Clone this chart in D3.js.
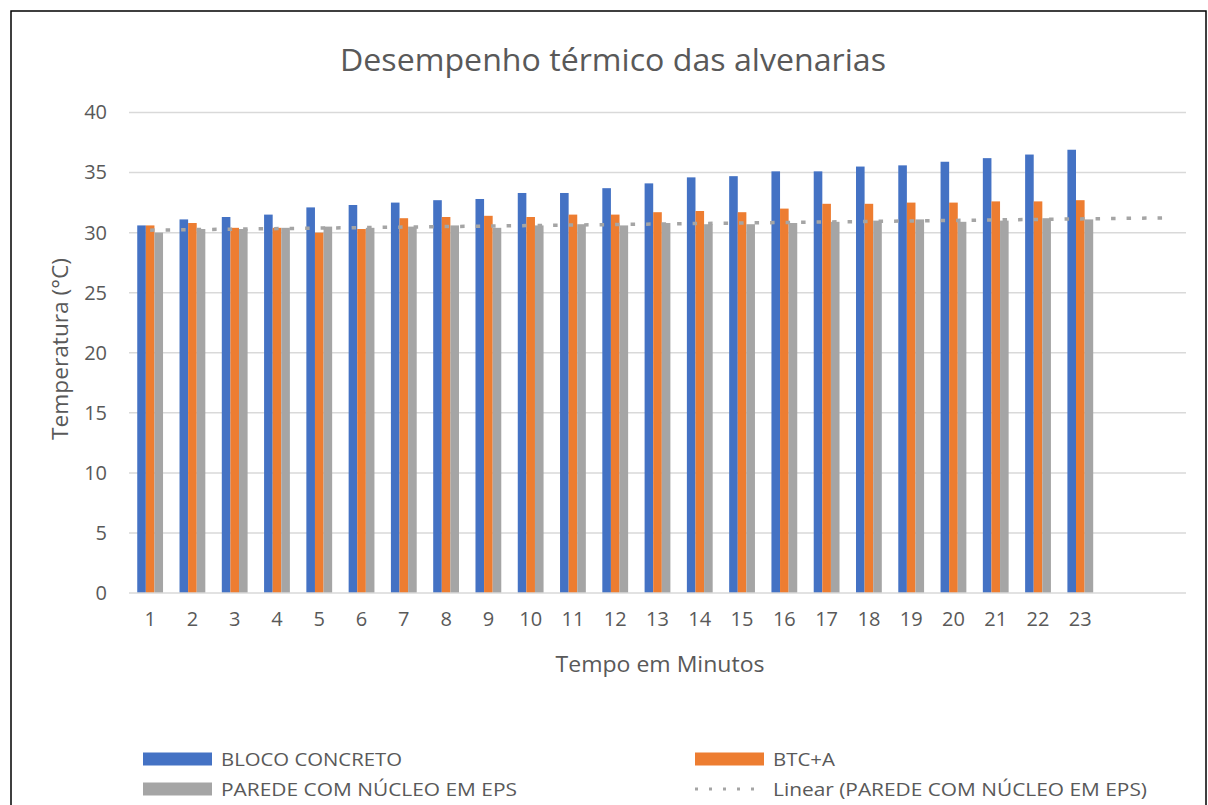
<!DOCTYPE html>
<html>
<head>
<meta charset="utf-8">
<script src="https://cdn.jsdelivr.net/npm/d3@7"></script>
<style>
  html, body { margin: 0; padding: 0; background: #fff; }
  svg { display: block; }
  text { font-family: "Open Sans", "Noto Sans", sans-serif; fill: #595959; }
</style>
</head>
<body>
<svg id="chart" width="1208" height="805"></svg>
<script>
// ---- Data ----
const categories = ["1","2","3","4","5","6","7","8","9","10","11","12","13","14","15","16","17","18","19","20","21","22","23"];
const forecastSlots = ["", ""]; // empty categories covered by the trendline forecast
const seriesNames = ["BLOCO CONCRETO", "BTC+A", "PAREDE COM NÚCLEO EM EPS"];
const blocoConcreto = [30.6, 31.1, 31.3, 31.5, 32.1, 32.3, 32.5, 32.7, 32.8, 33.3, 33.3, 33.7, 34.1, 34.6, 34.7, 35.1, 35.1, 35.5, 35.6, 35.9, 36.2, 36.5, 36.9];
const btcA = [30.6, 30.8, 30.4, 30.4, 30.0, 30.3, 31.2, 31.3, 31.4, 31.3, 31.5, 31.5, 31.7, 31.8, 31.7, 32.0, 32.4, 32.4, 32.5, 32.5, 32.6, 32.6, 32.7];
const paredeEPS = [30.0, 30.3, 30.3, 30.4, 30.5, 30.4, 30.5, 30.6, 30.4, 30.6, 30.7, 30.6, 30.8, 30.7, 30.7, 30.8, 30.9, 31.0, 31.1, 30.9, 31.0, 31.2, 31.1];
const yTicks = [0, 5, 10, 15, 20, 25, 30, 35, 40];
const colors = ["#4472C4", "#ED7D31", "#A5A5A5"];
const titleText = "Desempenho térmico das alvenarias";
const xTitle = "Tempo em Minutos";
const yTitle = "Temperatura (°C)";
const trendLabel = "Linear (PAREDE COM NÚCLEO EM EPS)";

// ---- Layout ----
const svg = d3.select("#chart");
const plot = { left: 129, right: 1186, top: 112.5, bottom: 593 };

svg.append("rect").attr("x", 11).attr("y", 11).attr("width", 1195).attr("height", 820)
  .attr("fill", "#fff").attr("stroke", "#000").attr("stroke-width", 1.5);

const allCats = categories.map((c, i) => i).concat(forecastSlots.map((c, j) => categories.length + j));
const x = d3.scaleBand().domain(allCats).range([plot.left, plot.right]).paddingInner(0).paddingOuter(0);
const y = d3.scaleLinear().domain([0, 40]).range([plot.bottom, plot.top]);

// gridlines
svg.append("g").selectAll("line").data(yTicks.filter(t => t > 0)).join("line")
  .attr("x1", plot.left).attr("x2", plot.right)
  .attr("y1", d => y(d)).attr("y2", d => y(d))
  .attr("stroke", "#D9D9D9").attr("stroke-width", 1.5);

// y axis labels
const yAxis = d3.axisLeft(y).tickValues(yTicks).tickSize(0).tickPadding(0).tickFormat(d3.format("d"));
const yg = svg.append("g").attr("transform", `translate(107,0)`).call(yAxis);
yg.select(".domain").remove();
yg.selectAll("text").attr("font-size", 20).attr("fill", "#595959")
  .style("font-family", '"Open Sans", sans-serif');

// bars
const series = [blocoConcreto, btcA, paredeEPS];
const barW = 8.6;
const groupW = barW * series.length;
series.forEach((vals, si) => {
  svg.append("g").selectAll("rect").data(vals).join("rect")
    .attr("x", (d, i) => x(i) + x.bandwidth() / 2 - groupW / 2 + si * barW)
    .attr("width", barW)
    .attr("y", d => y(d))
    .attr("height", d => y(0) - y(d))
    .attr("fill", colors[si]);
});

// x axis line
svg.append("line").attr("x1", plot.left).attr("x2", plot.right)
  .attr("y1", y(0)).attr("y2", y(0)).attr("stroke", "#D9D9D9").attr("stroke-width", 1.5);

// x axis labels
const xAxis = d3.axisBottom(x).tickSize(0).tickPadding(0)
  .tickFormat(i => i < categories.length ? categories[i] : forecastSlots[i - categories.length]);
const xg = svg.append("g").attr("transform", `translate(0,${y(0) + 22})`).call(xAxis);
xg.select(".domain").remove();
xg.selectAll("text").attr("font-size", 20).attr("fill", "#595959").attr("dy", "0.55em")
  .style("font-family", '"Open Sans", sans-serif');

// linear trendline (least squares on PAREDE series, forecast forward 2 periods)
const xs = paredeEPS.map((d, i) => i + 1);
const mx = d3.mean(xs), my = d3.mean(paredeEPS);
const slope = d3.sum(xs, (xi, i) => (xi - mx) * (paredeEPS[i] - my)) / d3.sum(xs, xi => (xi - mx) ** 2);
const intercept = my - slope * mx;
const trendPts = allCats.map(i => ({ i, v: intercept + slope * (i + 1) }));
svg.append("path")
  .attr("d", d3.line().x(d => x(d.i) + x.bandwidth() / 2).y(d => y(d.v))([trendPts[0], trendPts[trendPts.length - 1]]))
  .attr("fill", "none").attr("stroke", "#A5A5A5").attr("stroke-width", 3.5)
  .attr("stroke-dasharray", "4.5,11");

// titles
function fitText(sel, w) {
  sel.attr("textLength", w).attr("lengthAdjust", "spacingAndGlyphs");
}
svg.append("text").attr("x", 613).attr("y", 71).attr("text-anchor", "middle")
  .attr("font-size", 31).text(titleText).call(fitText, 546);
svg.append("text").attr("x", 660).attr("y", 672).attr("text-anchor", "middle")
  .attr("font-size", 21).text(xTitle).call(fitText, 209);
svg.append("text").attr("transform", "translate(68,349) rotate(-90)").attr("text-anchor", "middle")
  .attr("font-size", 21).text(yTitle).call(fitText, 182);

// legend
const legendItems = [
  { type: "rect", color: colors[0], label: seriesNames[0], x: 143, y: 759, w: 181 },
  { type: "rect", color: colors[1], label: seriesNames[1], x: 695, y: 759, w: 62 },
  { type: "rect", color: colors[2], label: seriesNames[2], x: 143, y: 789, w: 296 },
  { type: "line", color: colors[2], label: trendLabel, x: 695, y: 789, w: 374 }
];
const lg = svg.append("g");
legendItems.forEach(it => {
  if (it.type === "rect") {
    lg.append("rect").attr("x", it.x).attr("y", it.y - 6.5).attr("width", 69).attr("height", 13).attr("fill", it.color);
  } else {
    lg.append("line").attr("x1", it.x).attr("x2", it.x + 69).attr("y1", it.y).attr("y2", it.y)
      .attr("stroke", it.color).attr("stroke-width", 3).attr("stroke-dasharray", "3,11");
  }
  lg.append("text").attr("x", it.x + 78).attr("y", it.y).attr("dy", "0.36em")
    .attr("font-size", 19).text(it.label).call(fitText, it.w);
});
</script>
</body>
</html>
